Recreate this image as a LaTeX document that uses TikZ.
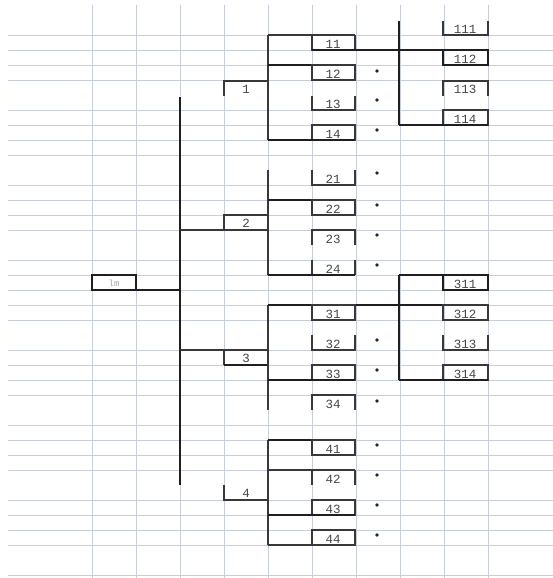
\documentclass[tikz,border=0pt]{standalone}
\usepackage{fontspec}
\setmonofont{Liberation Mono}
\definecolor{gridc}{RGB}{200,206,216}

\begin{document}
\begin{tikzpicture}[x=1pt, y=-1pt,
		gridline/.style={line width=0.9pt, color=gridc},
		bord/.style={line width=1.1pt, color=black!78},
		bordthick/.style={line width=1.7pt, color=black!88},
		lbl/.style={font=\ttfamily\fontsize{12.5}{12.5}\selectfont, text=black!72, inner sep=0pt},
		dotmark/.style={fill=black!85}]
			%%%%% START %%%%%
			
			\fill[white] (0, 0) rectangle (553, 578);
			\useasboundingbox (0, 0) rectangle (553, 578);
			
			% sheet grid
			\foreach \k in {0,1,2,3,5,6,7,8,10,11,12,13,15,16,17,18,19,21,22,23,24,26,27,28,29,31,32,33,34,36}
				\draw[gridline] (8, 35+15*\k) -- (553, 35+15*\k);
			\foreach \c in {0,...,9}
				\draw[gridline] (92+44*\c, 5) -- (92+44*\c, 578);
			
			% root
			\draw[bordthick] (92, 275) rectangle (136, 290);
			\node[lbl, font=\ttfamily\fontsize{9}{9}\selectfont, text=black!35] (root) at (114, 283) {lm};
			\draw[bordthick] (136, 290) -- (180, 290);
			\draw[bordthick] (180, 97) -- (180, 485);
			
			% branch 1
			\draw[bord] (224, 96) -- (224, 81) -- (268, 81);
			\node[lbl] (n1) at (246, 89) {1};
			\draw[bord] (268, 35) -- (268, 140);
			
			\draw[bord] (268, 35) -- (355, 35);
			\draw[bord] (312, 35) -- (312, 51);
			\draw[bord] (355, 35) -- (355, 51);
			\draw[bordthick] (312, 50) -- (488, 50);
			\node[lbl] (n11) at (333, 44) {11};
			
			\draw[bordthick] (268, 65) -- (355, 65);
			\draw[bord] (312, 65) rectangle (355, 80);
			\node[lbl] (n12) at (333, 74) {12};
			
			\draw[bord] (312, 96) -- (312, 110) -- (355, 110) -- (355, 96);
			\node[lbl] (n13) at (333, 104) {13};
			
			\draw[bord] (312, 125) rectangle (355, 140);
			\draw[bordthick] (268, 140) -- (355, 140);
			\node[lbl] (n14) at (333, 134) {14};
			
			\draw[bordthick] (399, 21) -- (399, 125);
			
			\draw[bord] (443, 21) -- (443, 35) -- (488, 35) -- (488, 21);
			\node[lbl] (n111) at (465, 29) {111};
			
			\draw[bordthick] (443, 50) rectangle (488, 65);
			\node[lbl] (n112) at (465, 59) {112};
			
			\draw[bord] (443, 96) -- (443, 81) -- (488, 81) -- (488, 96);
			\node[lbl] (n113) at (465, 89) {113};
			
			\draw[bord] (443, 110) rectangle (488, 125);
			\draw[bordthick] (399, 125) -- (488, 125);
			\node[lbl] (n114) at (465, 119) {114};
			
			% branch 2
			\draw[bord] (180, 230) -- (268, 230);
			\draw[bord] (224, 230) -- (224, 215) -- (268, 215);
			\node[lbl] (n2) at (246, 223) {2};
			\draw[bord] (268, 170) -- (268, 275);
			
			\draw[bord] (312, 170) -- (312, 185) -- (355, 185) -- (355, 170);
			\node[lbl] (n21) at (333, 179) {21};
			
			\draw[bordthick] (268, 200) -- (355, 200);
			\draw[bord] (312, 200) rectangle (355, 215);
			\node[lbl] (n22) at (333, 209) {22};
			
			\draw[bord] (312, 245) -- (312, 230) -- (355, 230) -- (355, 245);
			\node[lbl] (n23) at (333, 239) {23};
			
			\draw[bord] (312, 260) -- (312, 275);
			\draw[bord] (355, 260) -- (355, 275);
			\draw[bordthick] (268, 275) -- (355, 275);
			\node[lbl] (n24) at (333, 269) {24};
			
			% branch 3
			\draw[bord] (180, 350) -- (268, 350);
			\draw[bord] (224, 350) -- (224, 365);
			\draw[bordthick] (224, 365) -- (268, 365);
			\node[lbl] (n3) at (246, 358) {3};
			\draw[bord] (268, 305) -- (268, 410);
			
			\draw[bordthick] (268, 305) -- (488, 305);
			\draw[bord] (312, 305) rectangle (355, 320);
			\node[lbl] (n31) at (333, 314) {31};
			
			\draw[bord] (312, 335) -- (312, 350) -- (355, 350) -- (355, 335);
			\node[lbl] (n32) at (333, 344) {32};
			
			\draw[bord] (312, 365) rectangle (355, 380);
			\draw[bordthick] (268, 380) -- (355, 380);
			\node[lbl] (n33) at (333, 374) {33};
			
			\draw[bord] (312, 410) -- (312, 395) -- (355, 395) -- (355, 410);
			\node[lbl] (n34) at (333, 404) {34};
			
			\draw[bordthick] (399, 275) -- (488, 275);
			\draw[bordthick] (399, 275) -- (399, 380);
			\draw[bordthick] (443, 275) rectangle (488, 290);
			\node[lbl] (n311) at (465, 284) {311};
			
			\draw[bord] (443, 305) rectangle (488, 320);
			\node[lbl] (n312) at (465, 314) {312};
			
			\draw[bord] (443, 335) -- (443, 350) -- (488, 350) -- (488, 335);
			\node[lbl] (n313) at (465, 344) {313};
			
			\draw[bord] (443, 365) rectangle (488, 380);
			\draw[bordthick] (399, 380) -- (488, 380);
			\node[lbl] (n314) at (465, 374) {314};
			
			% branch 4
			\draw[bord] (224, 485) -- (224, 500) -- (268, 500);
			\node[lbl] (n4) at (246, 493) {4};
			\draw[bord] (268, 440) -- (268, 545);
			
			\draw[bordthick] (268, 440) -- (355, 440);
			\draw[bord] (312, 440) rectangle (355, 455);
			\node[lbl] (n41) at (333, 449) {41};
			
			\draw[bord] (268, 470) -- (355, 470);
			\draw[bord] (312, 470) -- (312, 485);
			\draw[bord] (355, 470) -- (355, 485);
			\node[lbl] (n42) at (333, 479) {42};
			
			\draw[bord] (312, 500) rectangle (355, 515);
			\draw[bordthick] (268, 515) -- (355, 515);
			\node[lbl] (n43) at (333, 509) {43};
			
			\draw[bord] (312, 530) rectangle (355, 545);
			\draw[bord] (268, 545) -- (355, 545);
			\node[lbl] (n44) at (333, 539) {44};
			
			% marks
			\foreach \y in {71,100,130,173,205,235,265,340,370,401,445,475,505,535}
				\fill[dotmark] (377, \y) circle (1.9pt);
			
			%%%%% END %%%%%
		\end{tikzpicture}
\end{document}
